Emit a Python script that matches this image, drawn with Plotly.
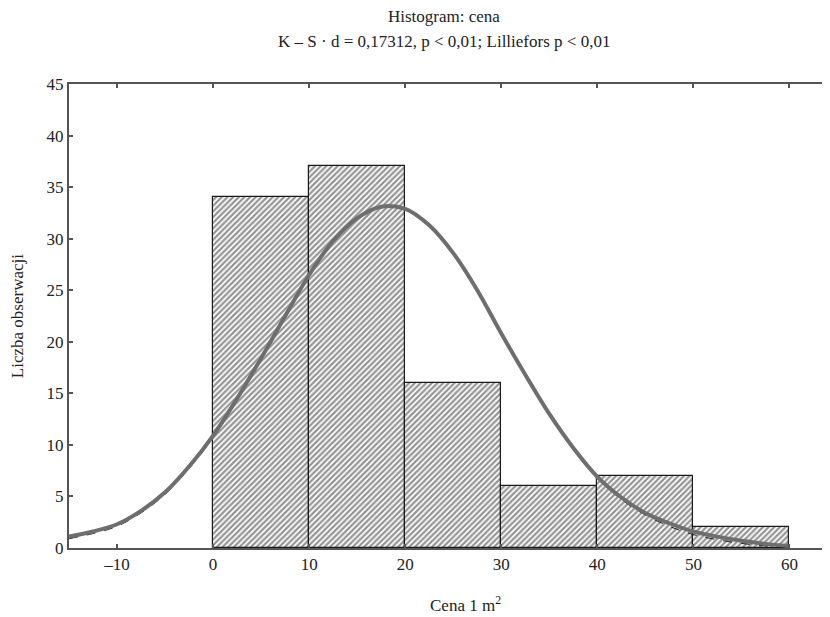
import plotly.graph_objects as go

# Histogram data
bin_centers = [5, 15, 25, 35, 45, 55]
counts = [34, 37, 16, 6, 7, 2]

# Fitted normal curve
curve_x = [-15, -12.5, -10, -7.5, -5, -2.5, 0, 2.5, 5, 7.5, 10, 12.5, 15, 17.5, 20,
           22.5, 25, 27.5, 30, 32.5, 35, 37.5, 40, 42.5, 45, 47.5, 50, 52.5, 55, 57.5, 60]
curve_y = [1.1, 1.6, 2.3, 3.6, 5.4, 7.9, 10.9, 14.5, 18.4, 22.5, 26.5, 29.8, 32.0, 33.1, 32.9,
           31.3, 28.6, 25.0, 20.8, 16.8, 13.0, 9.7, 6.9, 4.9, 3.4, 2.4, 1.6, 1.1, 0.7, 0.4, 0.2]
# Thin dashed reference curve (nearly coincident)
dash_y = [0.9, 1.4, 2.1, 3.4, 5.2, 7.7, 10.7, 14.3, 18.2, 22.3, 26.3, 29.6, 31.9, 33.0, 32.8,
          31.2, 28.5, 24.9, 20.7, 16.7, 12.9, 9.6, 6.8, 4.7, 3.2, 2.1, 1.3, 0.8, 0.45, 0.2, 0.1]

x_ticks = [-10, 0, 10, 20, 30, 40, 50, 60]
x_ticklabels = ["–10", "0", "10", "20", "30", "40", "50", "60"]
y_ticks = [0, 5, 10, 15, 20, 25, 30, 35, 40, 45]

FONT = "Liberation Serif"
TXT = "#222222"

# page offset of the figure inside the browser window
OFF = 8
ML, MR, MT, MB = 69 - OFF, 830 - 828 + OFF, 84 - OFF, 617 - 548 + OFF

fig = go.Figure()
fig.add_trace(go.Bar(
    x=bin_centers, y=counts, width=10,
    marker=dict(color="white",
                line=dict(color="#1a1a1a", width=1.2),
                pattern=dict(shape="/", fgcolor="#2a2a2a", bgcolor="white", size=4, solidity=0.55)),
    showlegend=False, hoverinfo="skip"))
fig.add_trace(go.Scatter(
    x=curve_x, y=dash_y, mode="lines", line=dict(color="#222222", width=1, dash="dash", shape="spline"),
    showlegend=False, hoverinfo="skip"))
fig.add_trace(go.Scatter(
    x=curve_x, y=curve_y, mode="lines", line=dict(color="#6e6e6e", width=4, shape="spline"),
    showlegend=False, hoverinfo="skip"))

axis_common = dict(showline=True, linecolor="#555555", linewidth=2, mirror="ticks",
                   ticks="inside", ticklen=4, tickwidth=2, tickcolor="#555555",
                   showgrid=False, zeroline=False,
                   tickfont=dict(family=FONT, size=17, color=TXT))

W, H = 830, 617
pw = W - ML - MR
ph = H - MT - MB


def ann(text, px, py, angle=0):
    # px, py are window pixel positions
    fx, fy = px - OFF, py - OFF
    return dict(text=text, xref="paper", yref="paper",
                x=(fx - ML) / pw, y=(H - MB - fy) / ph,
                xanchor="center", yanchor="middle", showarrow=False, textangle=angle,
                font=dict(family=FONT, size=17, color=TXT))


fig.update_layout(
    width=W, height=H,
    margin=dict(l=ML, r=MR, t=MT, b=MB),
    paper_bgcolor="white", plot_bgcolor="white",
    bargap=0,
    xaxis=dict(range=[-15, 63.8], tickvals=x_ticks, ticktext=x_ticklabels, **axis_common),
    yaxis=dict(range=[0, 45], tickvals=y_ticks, **axis_common),
    annotations=[
        ann("Histogram: cena", 445, 16),
        ann("K – S · d = 0,17312, p < 0,01; Lilliefors p < 0,01", 445, 41),
        ann("Liczba obserwacji", 17, 316, -90),
        ann("Cena 1 m<sup>2</sup>", 467, 604),
    ],
)

fig.write_html("out.html")
